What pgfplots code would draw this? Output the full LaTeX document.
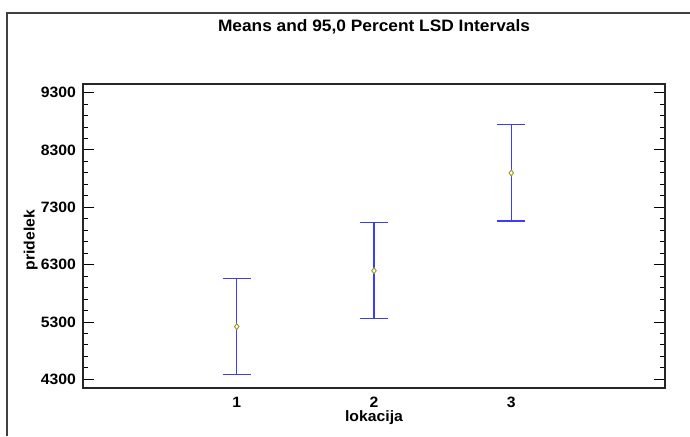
\documentclass[border=0pt]{standalone}
\usepackage{fontspec}
\setmainfont{Liberation Sans}[FakeStretch=1.05]
\usepackage{pgfplots}
\pgfplotsset{compat=1.18}
\definecolor{barblue}{RGB}{60,60,255}
\definecolor{markol}{RGB}{150,150,20}
\begin{document}
\begin{tikzpicture}[x=1pt,y=1pt]
\useasboundingbox (0,0) rectangle (690,436);
\draw[line width=1.3pt, black!75] (7,0) -- (7,423) -- (690,423);
\begin{axis}[
  at={(83pt,48pt)}, anchor=south west,
  scale only axis, width=582pt, height=304pt,
  xmin=-0.12, xmax=4.12, ymin=4150, ymax=9450,
  xtick=\empty,
  extra x ticks={1,2,3},
  extra x tick style={tick style={draw=none}, major tick length=0pt},
  ytick={4300,5300,6300,7300,8300,9300},
  minor y tick num=4,
  ytick pos=both, yticklabel pos=left,
  tick align=inside,
  major tick length=11pt, minor tick length=5pt,
  tick style={black, line width=1pt},
  axis line style={line width=1.3pt, black!85},
  scaled y ticks=false,
  /pgf/number format/1000 sep={},
  /pgf/number format/assume math mode=true,
  ticklabel style={font=\bfseries\fontsize{15}{17}\selectfont, inner sep=0pt},
  yticklabel style={anchor=east, xshift=-7pt},
  xticklabel style={anchor=center, yshift=-14pt},
  title={Means and 95,0 Percent LSD Intervals},
  title style={at={(axis description cs:0.5,1.168)}, anchor=center, font=\bfseries\fontsize{16.5}{19}\selectfont},
  xlabel={lokacija},
  xlabel style={at={(axis description cs:0.5,-0.099)}, anchor=center, font=\bfseries\fontsize{15}{17}\selectfont},
  ylabel={pridelek},
  ylabel style={at={(axis description cs:-0.09,0.487)}, anchor=center, font=\bfseries\fontsize{15}{17}\selectfont},
]
\addplot[only marks, mark=diamond*, mark size=3pt,
  mark options={draw=markol, fill=white, line width=0.9pt},
  error bars/.cd, y dir=both, y explicit,
  error bar style={barblue, line width=1.2pt},
  error mark options={barblue, line width=1.2pt, rotate=90, mark size=14pt}]
  coordinates {(1,5220) +- (0,838) (2,6195) +- (0,838) (3,7900) +- (0,838)};
\end{axis}
\end{tikzpicture}
\end{document}
